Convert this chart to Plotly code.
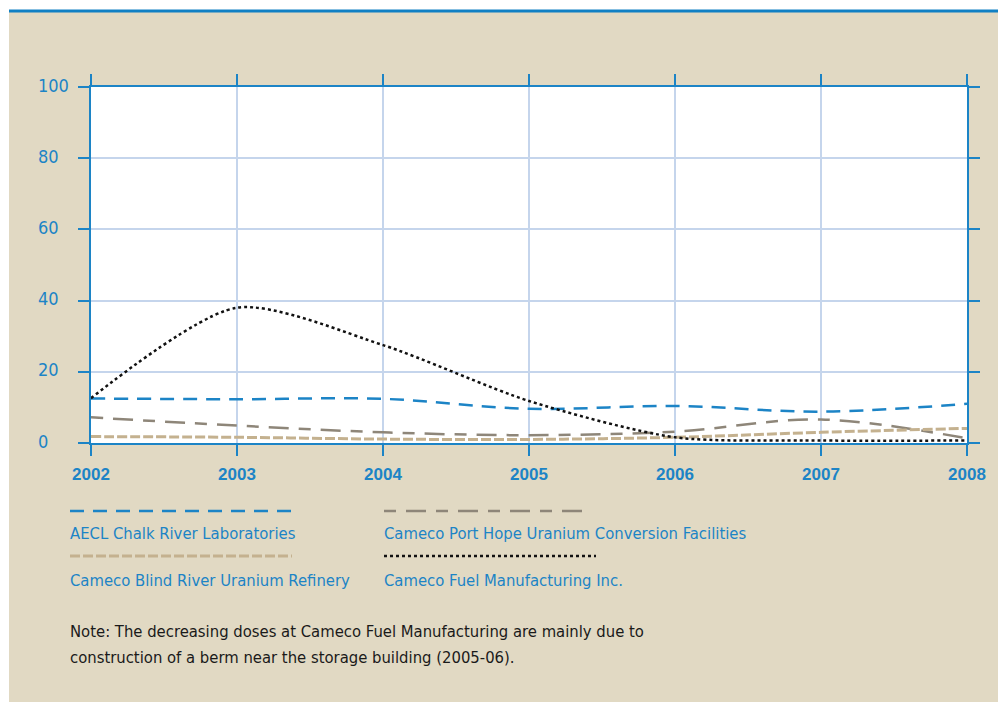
import plotly.graph_objects as go

# ---- data ----
years = [2002, 2003, 2004, 2005, 2006, 2007, 2008]
aecl_chalk_river = [12.5, 12.3, 12.4, 9.6, 10.4, 8.8, 11.0]
port_hope = [7.2, 4.9, 3.0, 2.2, 3.2, 6.6, 1.3]
blind_river = [1.8, 1.6, 1.1, 1.0, 1.6, 3.0, 4.1]
fuel_manufacturing = [12.6, 38.0, 27.5, 11.8, 1.6, 0.7, 0.7]

series_names = [
    "AECL Chalk River Laboratories",
    "Cameco Port Hope Uranium Conversion Facilities",
    "Cameco Blind River Uranium Refinery",
    "Cameco Fuel Manufacturing Inc.",
]
y_ticks = [0, 20, 40, 60, 80, 100]
x_ticks = years
note_lines = [
    "Note: The decreasing doses at Cameco Fuel Manufacturing are mainly due to",
    "construction of a berm near the storage building (2005-06).",
]

# ---- style ----
BLUE = "#1c84c6"
GREY = "#8e8679"
TAN = "#c4b18f"
BLACK = "#111111"
BEIGE = "#e1d9c3"
GRID = "#c5d5ec"
NARROW = "Liberation Sans Narrow, Arial Narrow, DejaVu Sans Condensed, sans-serif"

OFF = 8  # page body margin
W, H = 1006 - OFF, 702 - OFF
L, R, T, B = 91 - OFF, 967 - OFF, 87 - OFF, 443 - OFF


def px(x):
    """reference-window pixel x -> paper"""
    return (x - OFF - L) / (R - L)


def py(y):
    """reference-window pixel y -> paper"""
    return (B - (y - OFF)) / (B - T)


styles = [
    dict(color=BLUE, dash="14px,9px", width=2.5, smooth=1.0),
    dict(color=GREY, dash="12px,10px,20px,10px", width=2.5, smooth=1.0),
    dict(color=TAN, dash="10px,3px", width=3, smooth=1.0),
    dict(color=BLACK, dash="3px,3px", width=2.5, smooth=0.75),
]
values = [aecl_chalk_river, port_hope, blind_river, fuel_manufacturing]

fig = go.Figure()
for name, vals, st in zip(series_names, values, styles):
    fig.add_trace(go.Scatter(
        x=years, y=vals, name=name, mode="lines",
        line=dict(color=st["color"], dash=st["dash"], width=st["width"],
                  shape="spline", smoothing=st["smooth"]),
        showlegend=False, hoverinfo="x+y+name",
    ))

shapes = []
annotations = []

# background pieces: white strip at top, left strip, blue rule
shapes.append(dict(type="rect", xref="paper", yref="paper", layer="above",
                   x0=px(0), x1=px(1006), y0=py(0), y1=py(10), line_width=0,
                   fillcolor="white"))
shapes.append(dict(type="rect", xref="paper", yref="paper", layer="above",
                   x0=px(0), x1=px(9), y0=py(0), y1=py(702), line_width=0,
                   fillcolor="white"))
shapes.append(dict(type="rect", xref="paper", yref="paper", layer="above",
                   x0=px(9), x1=px(1006), y0=py(9.5), y1=py(12.5), line_width=0,
                   fillcolor="#1080c4"))

# y tick labels (left aligned)
for v in y_ticks:
    annotations.append(dict(x=px(36), xref="paper", y=v, yref="y",
                            text=str(v), showarrow=False, xanchor="left",
                            yanchor="middle", yshift=2,
                            font=dict(family=NARROW, size=18, color=BLUE)))

# custom legend
legend_pos = [
    (70, 292, 511, 533),
    (384, 588, 511, 533),
    (70, 292, 556, 580),
    (384, 596, 556, 580),
]
for name, st, (x0, x1, ly, ty) in zip(series_names, styles, legend_pos):
    shapes.append(dict(type="line", xref="paper", yref="paper",
                       x0=px(x0), x1=px(x1), y0=py(ly), y1=py(ly),
                       line=dict(color=st["color"], dash=st["dash"], width=st["width"])))
    annotations.append(dict(x=px(x0 - 2), xref="paper", y=py(ty), yref="paper",
                            text=name, showarrow=False, xanchor="left",
                            yanchor="middle",
                            font=dict(family=NARROW, size=16.5, color=BLUE)))

for i, line in enumerate(note_lines):
    annotations.append(dict(x=px(68), xref="paper", y=py(631 + 26 * i), yref="paper",
                            text=line, showarrow=False, xanchor="left",
                            yanchor="middle",
                            font=dict(family=NARROW, size=16.5, color="#1a1a1a")))

fig.update_layout(
    width=W, height=H,
    margin=dict(l=L, r=W - R, t=T, b=H - B, pad=0),
    paper_bgcolor=BEIGE,
    plot_bgcolor="white",
    shapes=shapes,
    annotations=annotations,
    showlegend=False,
    xaxis=dict(
        range=[2002, 2008], tickvals=x_ticks, ticktext=[str(x) for x in x_ticks],
        showgrid=True, gridcolor=GRID, gridwidth=1.5,
        showline=True, linecolor=BLUE, linewidth=2, mirror="allticks",
        ticks="outside", ticklen=11, tickwidth=2, tickcolor=BLUE,
        tickfont=dict(family="Liberation Sans, Arial, sans-serif", size=17,
                      color=BLUE, weight="bold"),
        ticklabelstandoff=4, zeroline=False, fixedrange=True,
    ),
    yaxis=dict(
        range=[0, 100], tickvals=y_ticks, showticklabels=False,
        showgrid=True, gridcolor=GRID, gridwidth=1.5,
        showline=True, linecolor=BLUE, linewidth=2, mirror="allticks",
        ticks="outside", ticklen=11, tickwidth=2, tickcolor=BLUE,
        zeroline=False, fixedrange=True,
    ),
)

fig.write_html("out.html")
